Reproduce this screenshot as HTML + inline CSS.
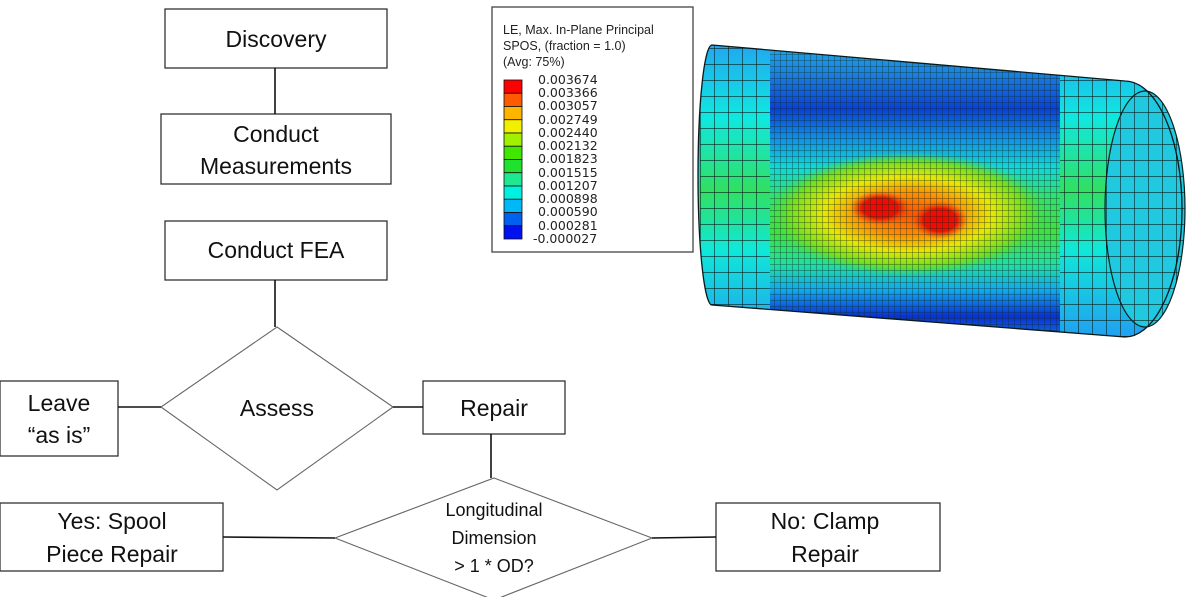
<!DOCTYPE html>
<html><head><meta charset="utf-8"><style>
html,body{margin:0;padding:0;background:#fff;}
svg{display:block;}
</style></head><body>
<svg width="1191" height="597" viewBox="0 0 1191 597" xmlns="http://www.w3.org/2000/svg" font-family="Liberation Sans, sans-serif">
<defs>
<linearGradient id="bg" x1="0" y1="45" x2="0" y2="337" gradientUnits="userSpaceOnUse">
<stop offset="0" stop-color="#20a8e8"/>
<stop offset="0.10" stop-color="#1a80e0"/>
<stop offset="0.22" stop-color="#0a40d8"/>
<stop offset="0.32" stop-color="#1090e8"/>
<stop offset="0.42" stop-color="#10d8d8"/>
<stop offset="0.52" stop-color="#30e070"/>
<stop offset="0.64" stop-color="#40e040"/>
<stop offset="0.75" stop-color="#20e0a0"/>
<stop offset="0.84" stop-color="#10a8f0"/>
<stop offset="0.93" stop-color="#0a30d8"/>
<stop offset="1" stop-color="#1070e0"/>
</linearGradient>
<radialGradient id="hot" cx="0.5" cy="0.5" r="0.5">
<stop offset="0" stop-color="#ff5000"/>
<stop offset="0.35" stop-color="#ff9000"/>
<stop offset="0.6" stop-color="#e8e800"/>
<stop offset="0.85" stop-color="#70e020"/>
<stop offset="1" stop-color="#40e040" stop-opacity="0"/>
</radialGradient>
<radialGradient id="hot2" cx="0.5" cy="0.5" r="0.5">
<stop offset="0" stop-color="#ff0000"/>
<stop offset="0.6" stop-color="#ee1000"/>
<stop offset="1" stop-color="#ff4000" stop-opacity="0"/>
</radialGradient>
<linearGradient id="eg" x1="0" y1="45" x2="0" y2="337" gradientUnits="userSpaceOnUse">
<stop offset="0" stop-color="#20a8f0"/>
<stop offset="0.25" stop-color="#10e8e0"/>
<stop offset="0.5" stop-color="#30e060"/>
<stop offset="0.7" stop-color="#10e8d8"/>
<stop offset="1" stop-color="#20a0f0"/>
</linearGradient>
<pattern id="fine" width="6" height="6" patternUnits="userSpaceOnUse">
<path d="M0 0H6M0 0V6" stroke="#102a20" stroke-width="1" fill="none" opacity="0.7"/>
</pattern>
<pattern id="coarse" width="14" height="16" patternUnits="userSpaceOnUse">
<path d="M0 0H14M0 0V16" stroke="#0a2020" stroke-width="1.2" fill="none"/>
</pattern>
<clipPath id="body"><path d="M712,45 L1125,81 A57,128 0 0 1 1125,337 L712,305 A14,130 0 0 1 712,45 Z"/></clipPath>
</defs>

<g fill="#fff" stroke="#333" stroke-width="1.3">
<rect x="165" y="9" width="222" height="59"/>
<rect x="161" y="114" width="230" height="70"/>
<rect x="165" y="221" width="222" height="59"/>
<rect x="0" y="381" width="118" height="75"/>
<rect x="423" y="381" width="142" height="53"/>
<rect x="0" y="503" width="223" height="68"/>
<rect x="716" y="503" width="224" height="68"/>
</g>
<g fill="#fff" stroke="#666" stroke-width="1.1">
<polygon points="277,327 393,407 277,490 161,407"/>
<polygon points="494,478 652,538 494,600 335,538"/>
</g>
<g stroke="#111" stroke-width="1.6">
<line x1="275" y1="68" x2="275" y2="114"/>
<line x1="275" y1="280" x2="275" y2="327"/>
<line x1="118" y1="407" x2="161" y2="407"/>
<line x1="393" y1="407" x2="423" y2="407"/>
<line x1="491" y1="434" x2="491" y2="478"/>
<line x1="223" y1="537" x2="335" y2="538"/>
<line x1="652" y1="538" x2="716" y2="537"/>
</g>
<g font-size="23" fill="#111" text-anchor="middle">
<text x="276" y="47">Discovery</text>
<text x="276" y="142">Conduct</text>
<text x="276" y="174">Measurements</text>
<text x="276" y="258">Conduct FEA</text>
<text x="277" y="416">Assess</text>
<text x="59" y="411">Leave</text>
<text x="59" y="443">“as is”</text>
<text x="494" y="416">Repair</text>
<text x="112" y="529">Yes: Spool</text>
<text x="112" y="562">Piece Repair</text>
<text x="825" y="529">No: Clamp</text>
<text x="825" y="562">Repair</text>
</g>
<g font-size="18" fill="#111" text-anchor="middle">
<text x="494" y="516">Longitudinal</text>
<text x="494" y="544">Dimension</text>
<text x="494" y="572">&gt; 1 * OD?</text>
</g>

<rect x="492" y="7" width="201" height="245" fill="#fff" stroke="#444" stroke-width="1.3"/>
<g font-size="12.5" fill="#222">
<text x="503" y="34">LE, Max. In-Plane Principal</text>
<text x="503" y="50">SPOS, (fraction = 1.0)</text>
<text x="503" y="66">(Avg: 75%)</text>
</g>
<g stroke="#111" stroke-width="0.8">
<rect x="504" y="80" width="18" height="13.25" fill="#ff0000"/>
<rect x="504" y="93.25" width="18" height="13.25" fill="#ff5a00"/>
<rect x="504" y="106.5" width="18" height="13.25" fill="#ffb400"/>
<rect x="504" y="119.75" width="18" height="13.25" fill="#f0f000"/>
<rect x="504" y="133" width="18" height="13.25" fill="#a0f000"/>
<rect x="504" y="146.25" width="18" height="13.25" fill="#40e800"/>
<rect x="504" y="159.5" width="18" height="13.25" fill="#20e030"/>
<rect x="504" y="172.75" width="18" height="13.25" fill="#20e890"/>
<rect x="504" y="186" width="18" height="13.25" fill="#00f0e0"/>
<rect x="504" y="199.25" width="18" height="13.25" fill="#00b8f8"/>
<rect x="504" y="212.5" width="18" height="13.25" fill="#0060f0"/>
<rect x="504" y="225.75" width="18" height="13.25" fill="#0010f0"/>
</g>
<g font-size="12.5" fill="#222" font-family="DejaVu Sans, sans-serif">
<text x="538" y="84">0.003674</text>
<text x="538" y="97">0.003366</text>
<text x="538" y="110">0.003057</text>
<text x="538" y="124">0.002749</text>
<text x="538" y="137">0.002440</text>
<text x="538" y="150">0.002132</text>
<text x="538" y="163">0.001823</text>
<text x="538" y="177">0.001515</text>
<text x="538" y="190">0.001207</text>
<text x="538" y="203">0.000898</text>
<text x="538" y="216">0.000590</text>
<text x="538" y="230">0.000281</text>
<text x="533" y="243">-0.000027</text>
</g>

<g clip-path="url(#body)">
<rect x="690" y="40" width="500" height="300" fill="url(#bg)"/>
<ellipse cx="908" cy="214" rx="140" ry="62" fill="url(#hot)"/>
<ellipse cx="880" cy="208" rx="30" ry="17" fill="url(#hot2)"/>
<ellipse cx="940" cy="220" rx="28" ry="19" fill="url(#hot2)"/>
<rect x="700" y="40" width="70" height="300" fill="url(#eg)"/>
<rect x="1060" y="60" width="130" height="290" fill="url(#eg)"/>
<rect x="770" y="40" width="290" height="300" fill="url(#fine)"/>
<rect x="700" y="40" width="70" height="300" fill="url(#coarse)"/>
<rect x="1060" y="60" width="130" height="290" fill="url(#coarse)"/>
</g>
<ellipse cx="1145" cy="209" rx="40" ry="118" fill="#20c8e0" stroke="#0a2020" stroke-width="1.2"/>
<ellipse cx="1145" cy="209" rx="40" ry="118" fill="url(#coarse)"/>
<path d="M712,45 L1125,81 A57,128 0 0 1 1125,337 L712,305 A14,130 0 0 1 712,45 Z" fill="none" stroke="#0a1a1a" stroke-width="1.3"/>
</svg>
</body></html>
